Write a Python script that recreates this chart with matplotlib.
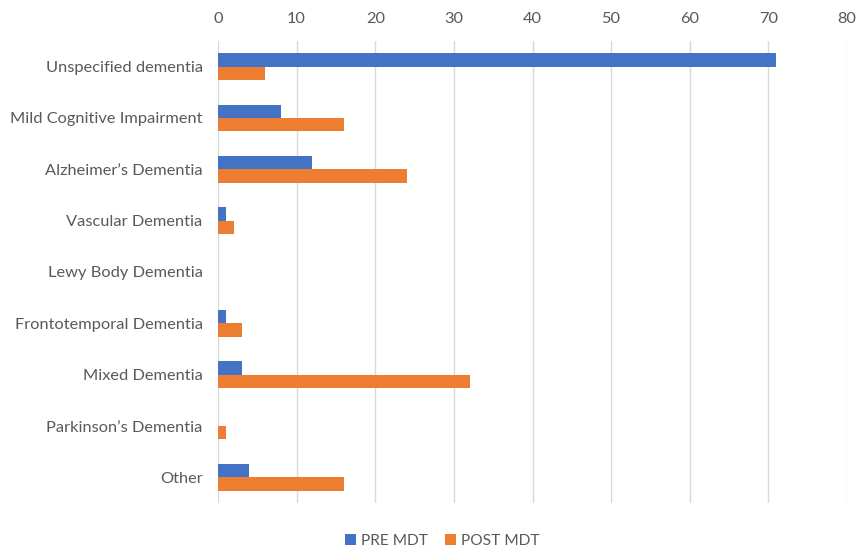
import numpy as np
import matplotlib.pyplot as plt

categories = ['Unspecified dementia', 'Mild Cognitive Impairment', 'Alzheimer\u2019s Dementia',
              'Vascular Dementia', 'Lewy Body Dementia', 'Frontotemporal Dementia',
              'Mixed Dementia', 'Parkinson\u2019s Dementia', 'Other']
pre_mdt = [71, 8, 12, 1, 0, 1, 3, 0, 4]
post_mdt = [6, 16, 24, 2, 0, 3, 32, 1, 16]

plt.rcParams['font.family'] = ['Lato', 'DejaVu Sans']
text_color = '#595959'

fig = plt.figure(figsize=(8.64, 5.54), dpi=100)
ax = fig.add_axes([218 / 864, 1 - 503 / 554, (847 - 218) / 864, 462 / 554])

y = np.arange(len(categories))
h = 0.26
ax.barh(y - h / 2, pre_mdt, height=h, color='#4472c4', label='PRE MDT', zorder=3)
ax.barh(y + h / 2, post_mdt, height=h, color='#ed7d31', label='POST MDT', zorder=3)

ax.set_xlim(0, 80)
ax.set_ylim(len(categories) - 0.5, -0.5)
ax.set_xticks(range(0, 81, 10))
ax.set_yticks(y)
ax.set_yticklabels(categories)
ax.xaxis.tick_top()
ax.tick_params(axis='both', length=0, colors=text_color, labelsize=11.8)
ax.tick_params(axis='x', pad=11)
ax.tick_params(axis='y', pad=11)
for s in ax.spines.values():
    s.set_visible(False)
ax.grid(axis='x', color='#d9d9d9', linewidth=1, zorder=0)

leg = fig.legend(loc='center', bbox_to_anchor=(0.512, 1 - 541 / 554), ncol=2, frameon=False,
                 fontsize=11.2, handlelength=0.7, handleheight=0.7, columnspacing=1.1, handletextpad=0.3)
for t in leg.get_texts():
    t.set_color(text_color)

fig.savefig('out.png', dpi=100)
